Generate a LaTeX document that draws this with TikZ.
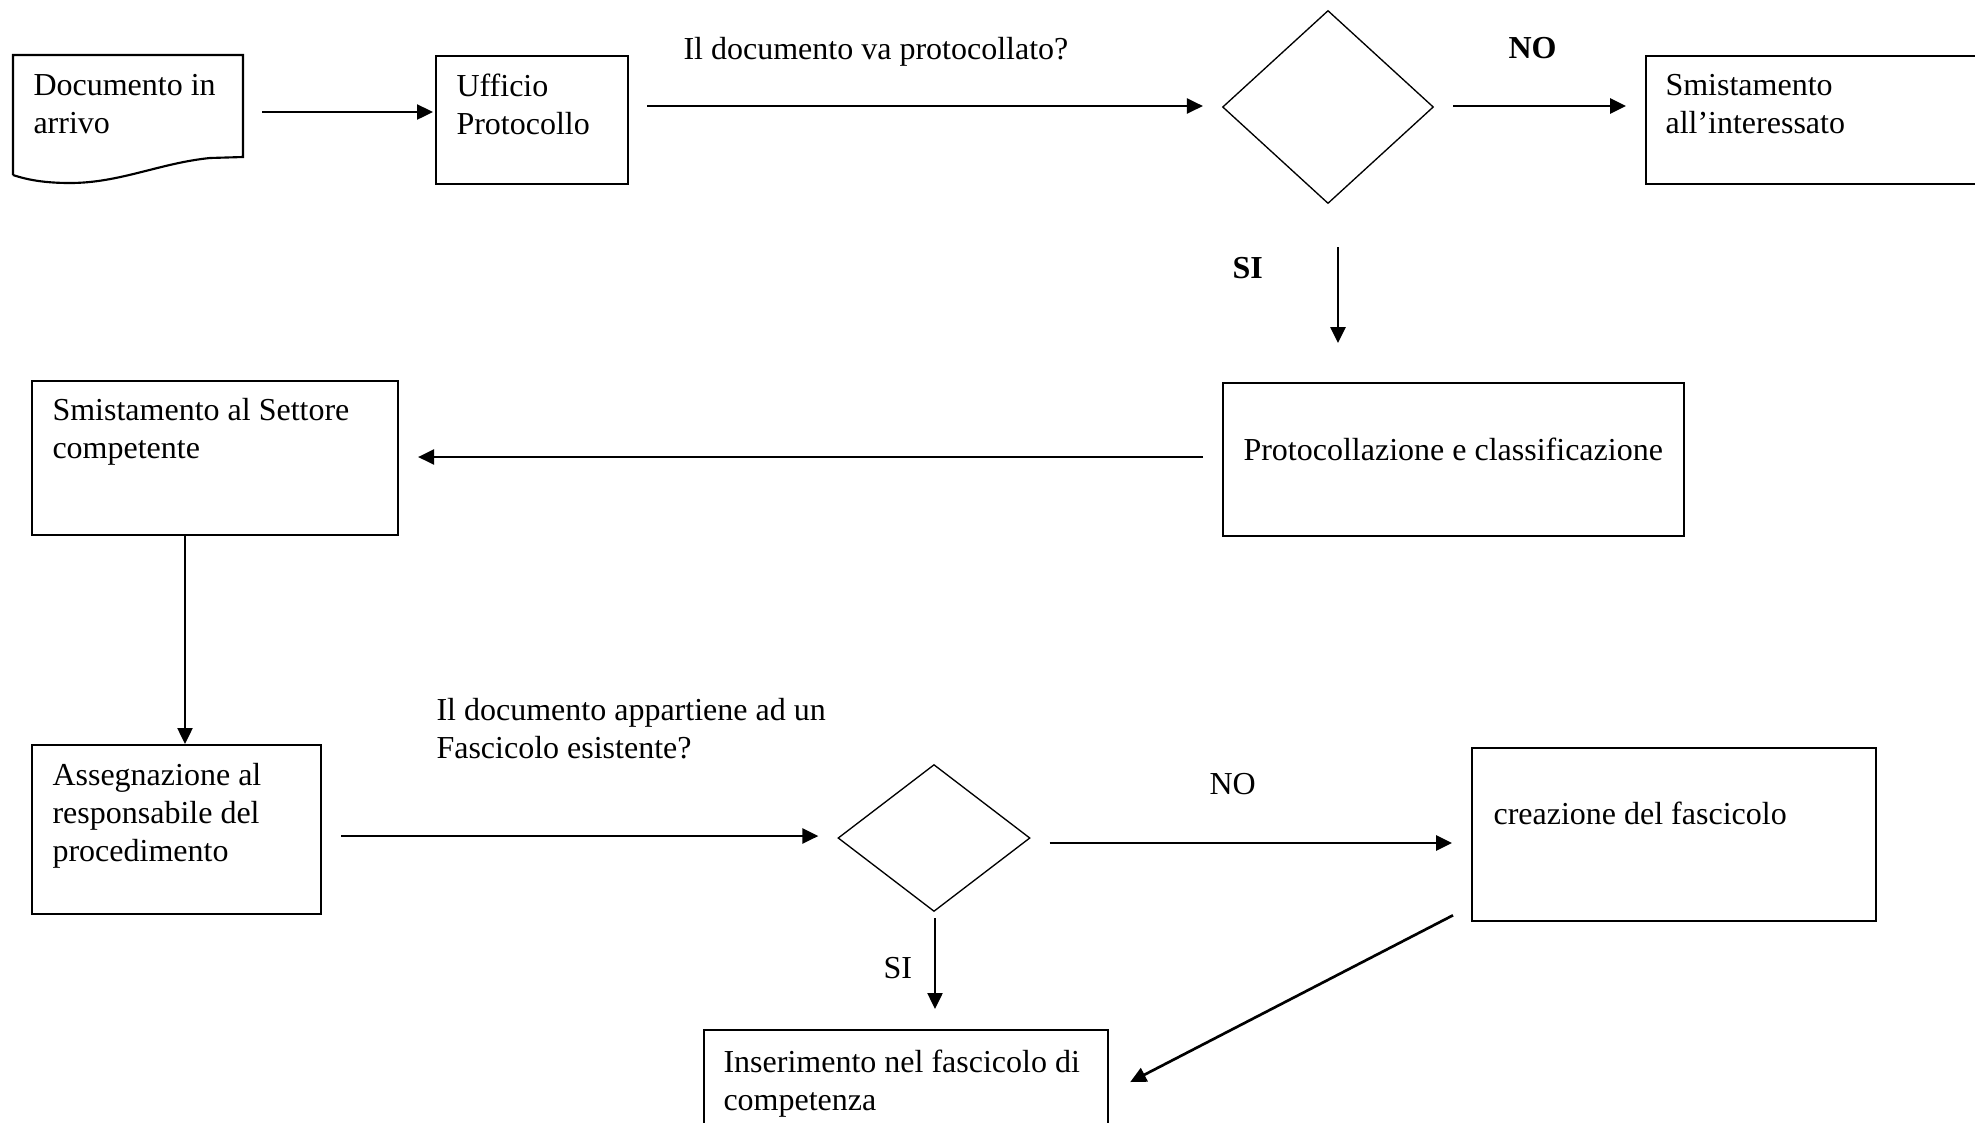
\documentclass[tikz,border=0pt]{standalone}
\usepackage{fontspec}
\setmainfont{Liberation Serif}
\usetikzlibrary{arrows.meta,shapes.geometric}
\begin{document}
\begin{tikzpicture}[x=0.375pt,y=-0.375pt,
  font=\fontsize{12pt}{14.25pt}\selectfont,
  box/.style={draw, line width=0.8pt, inner sep=0pt, anchor=north west},
  dia/.style={draw, diamond, line width=0.5pt, inner sep=0pt},
  txt/.style={anchor=north west, inner sep=0pt, align=left},
  arr/.style={line width=1pt, -{Triangle[length=6pt,width=5.6pt]}}]
\path[use as bounding box, fill=white] (0,0) rectangle (1975,1122);

% document shape
\node[inner sep=0pt, anchor=north west, minimum width=86.25pt, minimum height=38.25pt] (doc) at (13,55) {};
\draw[line width=0.8pt] (13,175) -- (13,55) -- (243,55) -- (243,157) -- (210,158)
  .. controls (160,163) and (120,183) .. (70,183)
  .. controls (45,183) and (28,180) .. (13,175);

\node[box, minimum width=72pt, minimum height=48pt] (uff) at (435,55) {};
\node[box, minimum width=125.6pt, minimum height=48pt] (smi) at (1645,55) {};
\node[box, minimum width=172.9pt, minimum height=57.4pt] (pro) at (1222,382) {};
\node[box, minimum width=137.25pt, minimum height=57.75pt] (set) at (31,380) {};
\node[box, minimum width=108.4pt, minimum height=63.4pt] (ass) at (31,744) {};
\node[box, minimum width=151.5pt, minimum height=64.9pt] (cre) at (1471,747) {};
\node[box, minimum width=151.5pt, minimum height=49.1pt] (ins) at (703,1029) {};

\node[dia, minimum width=79.1pt, minimum height=72.4pt] (d1) at (1328,107) {};
\node[dia, minimum width=72pt, minimum height=55.1pt] (d2) at (934,838) {};

% texts
\node[txt] (tdoc) at (33,74) {Documento in\\arrivo};
\node[txt] (tuff) at (456,73) {Ufficio\\Protocollo};
\node[txt] (tq1) at (683,37) {Il documento va protocollato?};
\node[txt, font=\fontsize{12pt}{14.25pt}\selectfont\bfseries] (tno1) at (1508,37) {NO};
\node[txt] (tsmi) at (1665,74) {Smistamento\\all’interessato};
\node[txt, font=\fontsize{12pt}{14.25pt}\selectfont\bfseries] (tsi1) at (1232,257) {SI};
\node[txt] (tpro) at (1243,437) {Protocollazione e classificazione};
\node[txt] (tset) at (52,398) {Smistamento al Settore\\competente};
\node[txt] (tass) at (52,763) {Assegnazione al\\responsabile del\\procedimento};
\node[txt] (tq2) at (436,698) {Il documento appartiene ad un\\Fascicolo esistente?};
\node[txt] (tno2) at (1209,773) {NO};
\node[txt] (tcre) at (1493,801) {creazione del fascicolo};
\node[txt] (tsi2) at (883,957) {SI};
\node[txt] (tins) at (723,1049) {Inserimento nel fascicolo di\\competenza};

% connectors
\draw[arr, shorten <=6.75pt, shorten >=0.75pt] (doc.east |- 0,112) -- (uff.west |- 0,112);
\draw[arr, shorten <=6.75pt, shorten >=7.1pt] (uff.east |- 0,106) -- (d1.west |- 0,106);
\draw[arr, shorten <=7.1pt, shorten >=7.1pt] (d1.east |- 0,106) -- (smi.west |- 0,106);
\draw[arr, shorten <=16.1pt, shorten >=14.6pt] (d1.south -| 1338,0) -- (pro.north -| 1338,0);
\draw[arr, shorten <=7.1pt, shorten >=7.1pt] (pro.west |- 0,457) -- (set.east |- 0,457);
\draw[arr] (set.south -| 185,0) -- (ass.north -| 185,0);
\draw[arr, shorten <=7.1pt, shorten >=7.1pt] (ass.east |- 0,836) -- (d2.west |- 0,836);
\draw[arr, shorten <=7.1pt, shorten >=7.1pt] (d2.east |- 0,843) -- (cre.west |- 0,843);
\draw[arr, shorten <=2.25pt, shorten >=7.5pt] (d2.south -| 935,0) -- (ins.north -| 935,0);
\draw[arr] ([xshift=-6.75pt, yshift=2.6pt]cre.south west) -- ([xshift=7.9pt, yshift=-19.9pt]ins.north east);
\end{tikzpicture}
\end{document}
